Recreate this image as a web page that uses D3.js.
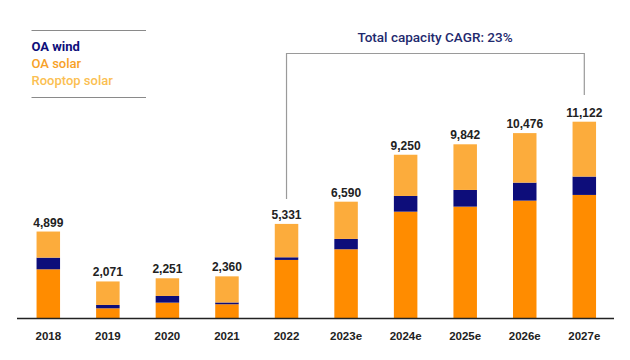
<!DOCTYPE html>
<html><head><meta charset="utf-8">
<script src="https://cdn.jsdelivr.net/npm/d3@7"></script>
<style>body{margin:0;background:#fff}svg{display:block}</style>
</head><body><svg id="c" width="630" height="360"></svg>
<script>
const categories = ["2018","2019","2020","2021","2022","2023e","2024e","2025e","2026e","2027e"];
const totals = [4899,2071,2251,2360,5331,6590,9250,9842,10476,11122];
const oaSolar = [2760,550,870,780,3290,3895,6025,6310,6650,6973];
const oaWind = [660,190,380,100,150,585,890,945,1020,1040];
const rooftopSolar = totals.map((t,i)=>t-oaSolar[i]-oaWind[i]);
const seriesNames = ["OA solar","OA wind","Rooftop solar"];
const colors = {"OA solar":"#ff8c00","OA wind":"#0d0d7a","Rooftop solar":"#fcac3c"};
const cagrLabel = "Total capacity CAGR: 23%";

const svg = d3.select("#c");
const x = d3.scalePoint().domain(categories).range([48.3,584.3]);
const y = d3.scaleLinear().domain([0,11122]).range([318,121.7]);
const bw = 23.5;

const rows = categories.map((c,i)=>({cat:c,"OA solar":oaSolar[i],"OA wind":oaWind[i],"Rooftop solar":rooftopSolar[i]}));
const stack = d3.stack().keys(seriesNames)(rows);
svg.append("g").selectAll("g").data(stack).join("g")
  .attr("fill",d=>colors[d.key])
  .selectAll("rect").data(d=>d).join("rect")
  .attr("x",d=>x(d.data.cat)-bw/2).attr("width",bw)
  .attr("y",d=>y(d[1])).attr("height",d=>y(d[0])-y(d[1]));

// baseline
svg.append("line").attr("x1",17).attr("x2",614).attr("y1",y(0)+0.5).attr("y2",y(0)+0.5)
  .attr("stroke","#222").attr("stroke-width",1.3);

// x labels
svg.append("g").selectAll("text").data(categories).join("text")
  .attr("x",d=>x(d)).attr("y",340).attr("text-anchor","middle")
  .attr("font-family","Liberation Sans, Arial, sans-serif").attr("font-weight","bold")
  .attr("font-size",11.5).attr("fill","#222").text(d=>d);

// totals
svg.append("g").selectAll("text").data(categories).join("text")
  .attr("x",d=>x(d)).attr("y",(d,i)=>y(totals[i])-5).attr("text-anchor","middle")
  .attr("font-family","Liberation Sans, Arial, sans-serif").attr("font-weight","bold")
  .attr("font-size",12).attr("fill","#222").text((d,i)=>d3.format(",")(totals[i]));

// CAGR bracket
const xa = x("2022"), xb = x("2027e");
svg.append("path")
  .attr("d",`M${xa},${y(totals[4])-25}V53.5H${xb}V95`)
  .attr("fill","none").attr("stroke","#9a9a9a").attr("stroke-width",1.2);
svg.append("text").attr("x",435).attr("y",42).attr("text-anchor","middle")
  .attr("font-family","Roboto, sans-serif").attr("font-weight","500")
  .attr("font-size",13.5).attr("fill","#1f2a6e").text(cagrLabel);

// legend
const lg = svg.append("g");
lg.append("line").attr("x1",31.5).attr("x2",146).attr("y1",30.5).attr("y2",30.5).attr("stroke","#8a8a8a");
lg.append("line").attr("x1",31.5).attr("x2",146).attr("y1",97.5).attr("y2",97.5).attr("stroke","#8a8a8a");
const legendItems = [{t:"OA wind",c:colors["OA wind"],w:"bold"},{t:"OA solar",c:"#f7a128",w:"500"},{t:"Rooptop solar",c:"#fbbf52",w:"500"}];
lg.selectAll("text").data(legendItems).join("text")
  .attr("x",31.5).attr("y",(d,i)=>50.5+i*17)
  .attr("font-family","Roboto, sans-serif").attr("font-weight",d=>d.w)
  .attr("font-size",13).attr("fill",d=>d.c).text(d=>d.t);
</script></body></html>
